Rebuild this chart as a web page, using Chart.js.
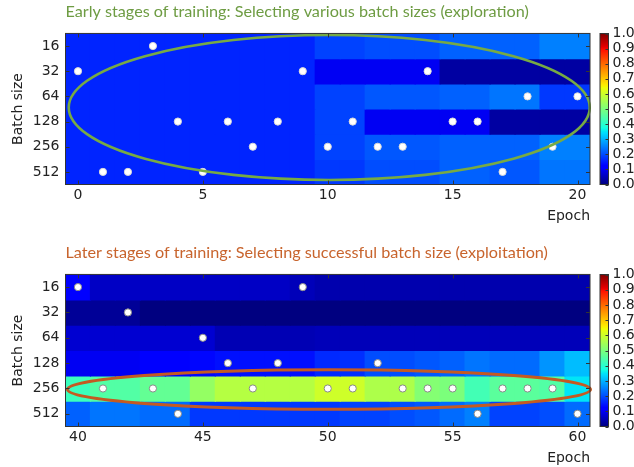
<!DOCTYPE html>
<html>
<head>
<meta charset="utf-8">
<script src="https://cdn.jsdelivr.net/npm/chart.js@4.4.1/dist/chart.umd.min.js"></script>
<style>
  body { margin: 0; background: #fff; }
  #wrap { position: relative; width: 634px; height: 467px; overflow: hidden; background: #fff; }
  canvas { position: absolute; }
</style>
</head>
<body>
<div id="wrap">
  <canvas id="map-early" width="595" height="232" style="left:0;top:0"></canvas>
  <canvas id="bar-early" width="39" height="232" style="left:595px;top:0"></canvas>
  <canvas id="map-late" width="595" height="235" style="left:0;top:232px"></canvas>
  <canvas id="bar-late" width="39" height="235" style="left:595px;top:232px"></canvas>
</div>
<script>
const batchSizes = [16, 32, 64, 128, 256, 512];
const colorbarTicks = [0, 0.1, 0.2, 0.3, 0.4, 0.5, 0.6, 0.7, 0.8, 0.9, 1.0];

// early stages: epochs 0..20
const earlyEpochs = [0, 1, 2, 3, 4, 5, 6, 7, 8, 9, 10, 11, 12, 13, 14, 15, 16, 17, 18, 19, 20];
const earlyTicks = [0, 5, 10, 15, 20];
const early16  = [.16, .16, .16, .16, .16, .16, .16, .16, .16, .16, .19, .19, .20, .20, .20, .22, .22, .22, .22, .25, .25];
const early32  = [.16, .16, .16, .16, .16, .16, .16, .16, .16, .16, .10, .10, .10, .10, .10, .03, .03, .03, .03, .03, .03];
const early64  = [.16, .16, .16, .16, .16, .16, .16, .16, .16, .16, .19, .19, .21, .21, .21, .22, .22, .24, .24, .18, .18];
const early128 = [.16, .16, .16, .16, .16, .16, .16, .16, .16, .16, .19, .19, .10, .10, .10, .10, .10, .03, .03, .03, .03];
const early256 = [.16, .16, .16, .16, .16, .16, .16, .16, .16, .16, .19, .19, .21, .21, .21, .22, .22, .22, .22, .25, .25];
const early512 = [.16, .16, .16, .16, .16, .16, .16, .16, .16, .16, .18, .18, .20, .20, .20, .22, .22, .21, .21, .24, .24];
const earlyPicks = [32, 512, 512, 16, 128, 512, 128, 256, 128, 32, 256, 128, 256, 256, 32, 128, 128, 512, 64, 256, 64];
const earlyEllipse = [10.06, 2.94, 10.43, 2.88]; // centre epoch, centre row, radius epochs, radius rows

// later stages: epochs 40..60
const lateEpochs = [40, 41, 42, 43, 44, 45, 46, 47, 48, 49, 50, 51, 52, 53, 54, 55, 56, 57, 58, 59, 60];
const lateTicks = [40, 45, 50, 55, 60];
const late16  = [.11, .06, .06, .06, .06, .06, .06, .06, .06, .05, .04, .04, .04, .04, .04, .04, .04, .04, .04, .04, .04];
const late32  = [.02, .02, .02, .00, .00, .00, .00, .00, .00, .00, .00, .00, .00, .00, .00, .00, .00, .00, .00, .00, .00];
const late64  = [.07, .07, .07, .07, .07, .07, .045, .045, .045, .045, .05, .05, .05, .05, .05, .05, .05, .05, .05, .05, .05];
const late128 = [.10, .10, .10, .11, .11, .13, .14, .14, .14, .14, .165, .17, .20, .20, .21, .22, .24, .23, .23, .27, .31];
const late256 = [.42, .45, .45, .47, .47, .53, .57, .57, .57, .57, .60, .60, .56, .56, .51, .50, .43, .46, .46, .45, .35];
const late512 = [.22, .24, .24, .23, .23, .18, .18, .18, .18, .18, .18, .19, .19, .20, .21, .23, .25, .19, .19, .20, .23];
const latePicks = [16, 256, 32, 256, 512, 64, 128, 256, 128, 16, 256, 256, 128, 256, 256, 256, 512, 256, 256, 256, 512];
const lateEllipse = [50.05, 4.54, 10.47, 0.775];

const tickFont = { family: '"DejaVu Sans", sans-serif', size: 14 };
const inkColor = "#222";

const JET = {
  r: [[0, 0], [0.35, 0], [0.66, 1], [0.89, 1], [1, 0.5]],
  g: [[0, 0], [0.125, 0], [0.375, 1], [0.64, 1], [0.91, 0], [1, 0]],
  b: [[0, 0.5], [0.11, 1], [0.34, 1], [0.65, 0], [1, 0]],
};

function lerpStops(v, stops) {
  for (let i = 1; i < stops.length; i++) {
    const [x0, y0] = stops[i - 1];
    const [x1, y1] = stops[i];
    if (v <= x1) return y0 + ((y1 - y0) * (v - x0)) / (x1 - x0);
  }
  return stops[stops.length - 1][1];
}

function jet(v) {
  v = Math.min(1, Math.max(0, v));
  const c = (k) => Math.round(255 * lerpStops(v, JET[k]));
  return `rgb(${c("r")},${c("g")},${c("b")})`;
}

// black frame + small inward ticks, like matplotlib
const framePlugin = {
  id: "frame",
  afterDraw(chart, args, opts) {
    const { left, top, right, bottom } = chart.chartArea;
    const ctx = chart.ctx;
    const len = opts.tickLen || 4;
    ctx.save();
    ctx.strokeStyle = "#333";
    ctx.lineWidth = 1;
    ctx.beginPath();
    if (opts.xTicks) {
      const x = chart.scales.x;
      x.ticks.forEach((t) => {
        const px = Math.round(x.getPixelForValue(t.value)) + 0.5;
        ctx.moveTo(px, bottom); ctx.lineTo(px, bottom - len);
        ctx.moveTo(px, top); ctx.lineTo(px, top + len);
      });
    }
    const y = chart.scales.y;
    y.ticks.forEach((t) => {
      const py = Math.round(y.getPixelForValue(t.value)) + 0.5;
      if (opts.leftTicks) { ctx.moveTo(left, py); ctx.lineTo(left + len, py); }
      ctx.moveTo(right, py); ctx.lineTo(right - len, py);
    });
    ctx.stroke();
    ctx.strokeRect(left, top, right - left, bottom - top);
    ctx.restore();
  },
};

const ellipsePlugin = {
  id: "ellipse",
  afterDatasetsDraw(chart, args, opts) {
    const { x, y } = chart.scales;
    const [cx, cy, rx, ry] = opts.shape;
    const px = x.getPixelForValue(cx);
    const py = y.getPixelForValue(cy);
    const ctx = chart.ctx;
    ctx.save();
    ctx.beginPath();
    ctx.ellipse(px, py,
      Math.abs(x.getPixelForValue(cx + rx) - px),
      Math.abs(y.getPixelForValue(cy + ry) - py), 0, 0, Math.PI * 2);
    ctx.strokeStyle = opts.color;
    ctx.lineWidth = opts.width;
    ctx.stroke();
    ctx.restore();
  },
};

function drawHeatmap(id, cfg) {
  const datasets = cfg.rows.map((vals, r) => ({
    type: "bar",
    data: cfg.epochs.map((e) => ({ x: e, y: [r, r + 1] })),
    backgroundColor: vals.map(jet),
    borderWidth: 0,
    grouped: false,
    barPercentage: 1,
    categoryPercentage: 1,
    inflateAmount: 0.6,
    order: 2,
  }));
  datasets.push({
    type: "scatter",
    data: cfg.epochs.map((e, i) => ({ x: e, y: batchSizes.indexOf(cfg.picks[i]) + 0.5 })),
    pointRadius: 3.6,
    pointBackgroundColor: "#ffffff",
    pointBorderColor: cfg.pointBorder,
    pointBorderWidth: 1,
    order: 0,
  });

  const canvas = document.getElementById(id);
  return new Chart(canvas, {
    type: "bar",
    data: { datasets },
    plugins: [ellipsePlugin, framePlugin],
    options: {
      responsive: false,
      animation: false,
      events: [],
      layout: { padding: { left: 0, right: canvas.width - 594.5, top: 0, bottom: 0 } },
      scales: {
        x: {
          type: "linear",
          offset: false,
          min: cfg.epochs[0] - 0.5,
          max: cfg.epochs[cfg.epochs.length - 1] + 0.5,
          afterBuildTicks: (s) => { s.ticks = cfg.xTicks.map((v) => ({ value: v })); },
          afterFit: (s) => { s.height = cfg.xAxisHeight; },
          grid: { display: false, drawTicks: false },
          border: { display: false },
          ticks: { padding: 2, autoSkip: false, font: tickFont, color: inkColor, maxRotation: 0, callback: (v) => String(v) },
          title: { display: true, text: "Epoch", align: "end", font: tickFont, color: inkColor,
                   padding: { top: 0, bottom: cfg.epochPadBottom } },
        },
        y: {
          type: "linear",
          min: 0,
          max: batchSizes.length,
          reverse: true,
          afterBuildTicks: (s) => { s.ticks = batchSizes.map((b, i) => ({ value: i + 0.5 })); },
          afterFit: (s) => { s.width = 65.5; },
          grid: { display: false, drawTicks: false },
          border: { display: false },
          ticks: { padding: 6, autoSkip: false, font: tickFont, color: inkColor, callback: (v) => String(batchSizes[Math.floor(v)]) },
          title: { display: true, text: "Batch size", font: tickFont, color: inkColor, padding: { top: 9.6, bottom: 0 } },
        },
      },
      plugins: {
        legend: { display: false },
        tooltip: { enabled: false },
        title: {
          display: true,
          text: cfg.title,
          color: cfg.titleColor,
          align: "start",
          fullSize: false,
          font: { family: "Lato, sans-serif", size: 16.2, weight: "normal" },
          padding: { top: cfg.titleTop, bottom: cfg.titleBottom },
        },
        ellipse: { shape: cfg.ellipse, color: cfg.ellipseColor, width: cfg.ellipseWidth },
        frame: { xTicks: true, leftTicks: true, tickLen: 4 },
      },
    },
  });
}

function drawColorbar(id, padTop, padBottom) {
  return new Chart(document.getElementById(id), {
    type: "bar",
    data: {
      labels: [""],
      datasets: [{
        data: [[0, 1]],
        borderWidth: 0,
        barPercentage: 1,
        categoryPercentage: 1,
        backgroundColor: (ctx) => {
          const chart = ctx.chart;
          if (!chart.chartArea) return "#000";
          const y = chart.scales.y;
          const g = chart.ctx.createLinearGradient(0, y.getPixelForValue(0), 0, y.getPixelForValue(1));
          for (let i = 0; i <= 200; i++) g.addColorStop(i / 200, jet(i / 200));
          return g;
        },
      }],
    },
    plugins: [framePlugin],
    options: {
      responsive: false,
      animation: false,
      events: [],
      layout: { padding: { left: 5, right: 0, top: padTop, bottom: padBottom } },
      scales: {
        x: { display: false },
        y: {
          position: "right",
          min: 0,
          max: 1,
          afterBuildTicks: (s) => { s.ticks = colorbarTicks.map((v) => ({ value: v })); },
          afterFit: (s) => { s.width = 25.5; },
          grid: { display: false, drawTicks: false },
          border: { display: false },
          ticks: { padding: 4, autoSkip: false, font: tickFont, color: inkColor, callback: (v) => v.toFixed(1) },
        },
      },
      plugins: {
        legend: { display: false },
        tooltip: { enabled: false },
        frame: { xTicks: false, leftTicks: false, tickLen: 3 },
      },
    },
  });
}

drawHeatmap("map-early", {
  title: "Early stages of training: Selecting various batch sizes (exploration)",
  titleColor: "#6e9c43",
  titleTop: 2,
  titleBottom: 12,
  epochs: earlyEpochs,
  xTicks: earlyTicks,
  rows: [early16, early32, early64, early128, early256, early512],
  picks: earlyPicks,
  pointBorder: "#d8d8d8",
  ellipse: earlyEllipse,
  ellipseColor: "#77aa44",
  ellipseWidth: 2.6,
  xAxisHeight: 47.5,
  epochPadBottom: 7.6,
});
drawColorbar("bar-early", 33.5, 47.5);

drawHeatmap("map-late", {
  title: "Later stages of training: Selecting successful batch size (exploitation)",
  titleColor: "#c8642d",
  titleTop: 11.5,
  titleBottom: 11.5,
  epochs: lateEpochs,
  xTicks: lateTicks,
  rows: [late16, late32, late64, late128, late256, late512],
  picks: latePicks,
  pointBorder: "#8a8a8a",
  ellipse: lateEllipse,
  ellipseColor: "#c45a22",
  ellipseWidth: 3,
  xAxisHeight: 40.5,
  epochPadBottom: 0.1,
});
drawColorbar("bar-late", 42.5, 40.5);
</script>
</body>
</html>
